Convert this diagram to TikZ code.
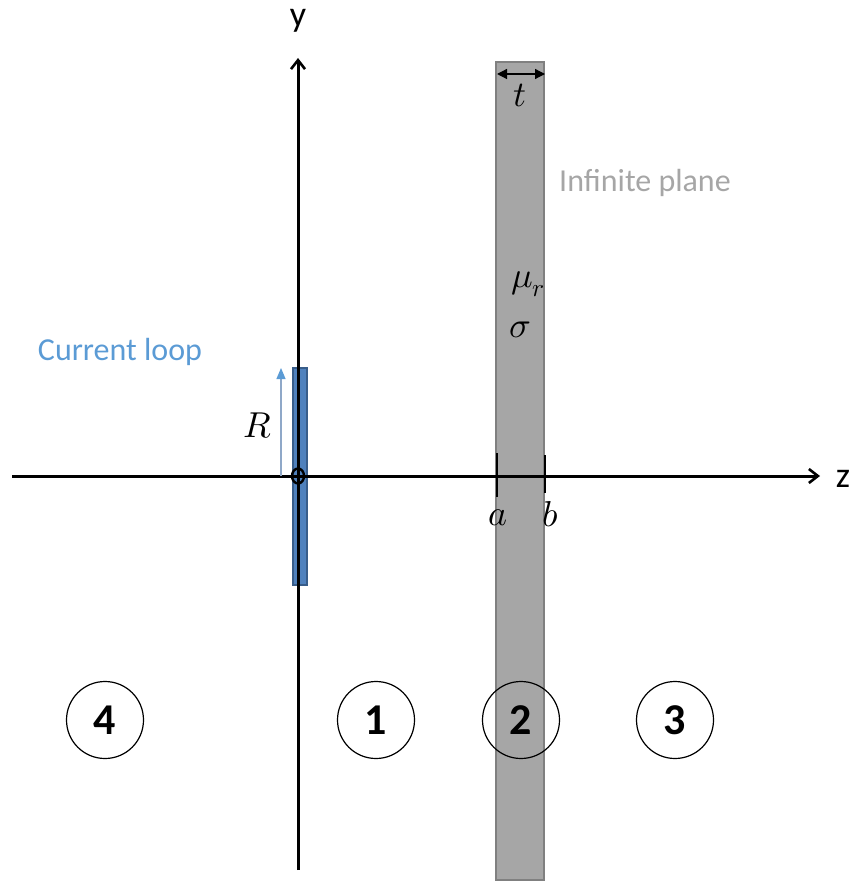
\documentclass[tikz,border=0pt]{standalone}
\usepackage{fontspec}
\usepackage{unicode-math}
\setmainfont{Carlito}
\setmathfont{Latin Modern Math}
\usetikzlibrary{arrows.meta,shapes.geometric}
\definecolor{planefill}{HTML}{A6A6A6}
\definecolor{planeline}{HTML}{808080}
\definecolor{loopfill}{HTML}{4F81BD}
\definecolor{loopline}{HTML}{385D8A}
\definecolor{looptext}{HTML}{5B9BD5}
\definecolor{rline}{HTML}{8FA8C8}
\tikzset{
  axis/.style={line width=3pt, -{Straight Barb[length=9pt,width=14pt,line width=2.6pt]}},
  region/.style={circle, draw, line width=1.2pt, minimum size=77pt, inner sep=0pt, font=\fontsize{44}{50}\selectfont\bfseries},
  mathlbl/.style={inner sep=0pt, font=\fontsize{36}{42}\selectfont},
  tick/.style={line width=2.8pt},
}
\begin{document}
\begin{tikzpicture}[x=1pt,y=-1pt]
\useasboundingbox (0,0) rectangle (854,882);
% plane
\draw[fill=planefill, draw=planeline, line width=1.5pt] (496,62) rectangle (544,880);
% blue loop
\draw[fill=loopfill, draw=loopline, line width=1.2pt] (293,368) rectangle (307,585);
% axes
\coordinate (zs) at (12,476);
\coordinate (ze) at (820,476);
\coordinate (ys) at (298,870);
\coordinate (ye) at (298,58);
\draw[axis] (zs) -- (ze);
\draw[axis] (ys) -- (ye);
\node[font=\fontsize{36}{42}\selectfont, anchor=base, inner sep=0pt] (zl) at (843,487) {z};
\node[font=\fontsize{36}{42}\selectfont, anchor=base, inner sep=0pt] (yl) at (298,27) {y};
% origin circle
\node[ellipse, draw, line width=2.4pt, minimum width=12pt, minimum height=15pt, inner sep=0pt] (o) at (298,476) {};
% R arrow
\coordinate (r0) at (281,476);
\coordinate (r1) at (281,368);
\draw[rline, line width=1.2pt, -{Triangle[length=11pt,width=9pt,fill=looptext,color=looptext]}] (r0) -- (r1);
\node[mathlbl] (R) at (258,426) {$R$};
\node[text=looptext, font=\fontsize{32}{38}\selectfont] (cl) at (120,352) {Current loop};
% plane labels
\node[text=planefill, font=\fontsize{32}{38}\selectfont] (ip) at (645,183) {Infinite plane};
\node[mathlbl] (mu) at (528,284) {$\mu_r$};
\node[mathlbl] (sig) at (520,330) {$\sigma$};
% thickness arrow
\coordinate (t0) at (497,74);
\coordinate (t1) at (545,74);
\draw[line width=1.2pt, {Triangle[length=10pt,width=10pt]}-{Triangle[length=10pt,width=10pt]}] (t0) -- (t1);
\node[mathlbl] (tl) at (520,95) {$t$};
% ticks
\coordinate (a0) at (497,453);
\coordinate (a1) at (497,497);
\coordinate (b0) at (545,455);
\coordinate (b1) at (545,493);
\draw[tick] (a0) -- (a1);
\draw[tick] (b0) -- (b1);
\node[mathlbl] (al) at (498,518) {$a$};
\node[mathlbl] (bl) at (550,514) {$b$};
% regions
\node[region] (r4) at (105,720) {4};
\node[region] (r1n) at (376,720) {1};
\node[region] (r2) at (521,720) {2};
\node[region] (r3) at (675,720) {3};
\end{tikzpicture}
\end{document}
